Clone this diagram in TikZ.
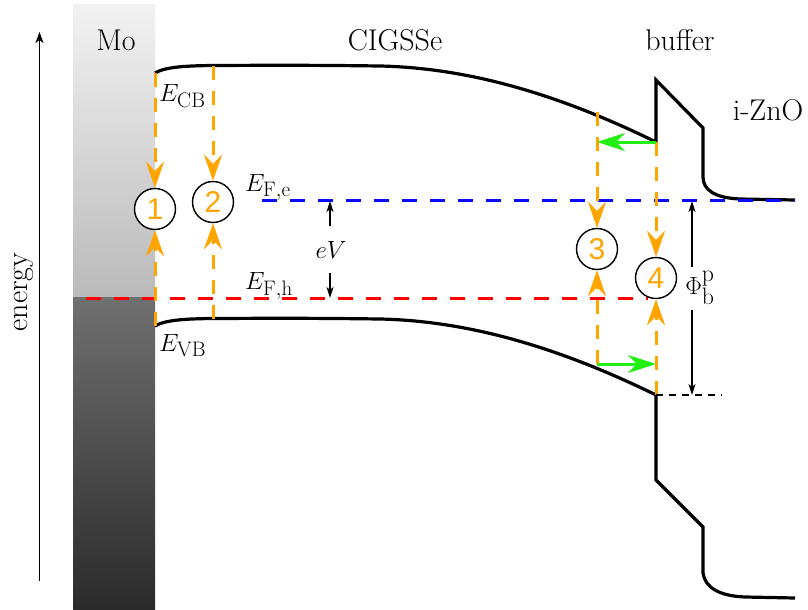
\documentclass[tikz,border=0pt]{standalone}
\usepackage{fontspec}
\newfontfamily\numfont{Liberation Sans}
\usetikzlibrary{arrows.meta}
\definecolor{myorange}{RGB}{255,165,0}
\definecolor{mygreen}{RGB}{34,238,17}
\definecolor{myblue}{RGB}{10,10,255}
\definecolor{myred}{RGB}{255,0,0}
\definecolor{lgtop}{RGB}{242,242,242}
\definecolor{lgbot}{RGB}{186,186,186}
\definecolor{dgtop}{RGB}{112,112,112}
\definecolor{dgbot}{RGB}{42,42,42}
\begin{document}
\begin{tikzpicture}[x=1pt,y=-1pt,
  font=\fontsize{30}{36}\selectfont,
  band/.style={line width=3.2pt},
  fermi/.style={line width=3pt, dash pattern=on 15pt off 13pt},
  odash/.style={myorange, line width=3pt, dash pattern=on 14pt off 11pt,
    -{Stealth[length=26pt,width=18pt,inset=9pt]}},
  garrow/.style={mygreen, line width=3pt, -{Stealth[length=28pt,width=18pt,inset=9pt]}},
  thinarrow/.style={line width=1.6pt, -{Stealth[length=11pt,width=7pt,inset=3pt]}},
  circ/.style={circle, draw, line width=1.4pt, fill=white, minimum size=41pt,
    inner sep=0pt, text=myorange, font=\numfont\fontsize{30}{30}\selectfont},
  lbl/.style={inner sep=0pt}
]
\useasboundingbox (0,0) rectangle (808,610);

% Mo contact
\shade[top color=lgtop, bottom color=lgbot] (73,5) rectangle (155,297);
\shade[top color=dgtop, bottom color=dgbot] (73,297) rectangle (155,610);

% energy axis
\coordinate (ea0) at (39.5,581);
\coordinate (ea1) at (39.5,32);
\draw[line width=1.8pt, -{Stealth[length=11pt,width=8pt,inset=3pt]}] (ea0) -- (ea1);
\node[rotate=90] (energy) at (24,292) {energy};

% key points
\coordinate (cb1) at (155,73);
\coordinate (cb2) at (213,66);
\coordinate (cb3) at (597,112);
\coordinate (cb4) at (656,142);
\coordinate (vb1) at (155,326);
\coordinate (vb2) at (213,319);
\coordinate (vb3) at (597,364);
\coordinate (vb4) at (656,395);

% bands
\draw[band] (cb1) .. controls (165,67) and (185,65.5) .. (220,65.5)
  .. controls (300,65) and (340,65.5) .. (380,66)
  .. controls (470,68) and (560,95) .. (cb4) -- (656,80) -- (703,128) -- (703,177)
  .. controls (703,190) and (715,198) .. (740,199) -- (795,200);
\draw[band] (vb1) .. controls (165,320) and (185,318.5) .. (220,318.5)
  .. controls (300,318) and (340,318.5) .. (380,319)
  .. controls (470,321) and (560,348) .. (vb4) -- (656,480) -- (703,527) -- (703,573)
  .. controls (705,588) and (720,596) .. (745,597) -- (795,598);

% Fermi levels
\coordinate (fe0) at (262,200);
\coordinate (fe1) at (795,200);
\coordinate (fh0) at (86,298);
\coordinate (fh1) at (648,298);
\draw[fermi, myblue] (fe0) -- (fe1);
\draw[fermi, myred] (fh0) -- (fh1);

% circles
\node[circ] (c1) at (155,209) {1};
\node[circ] (c2) at (213,202) {2};
\node[circ] (c3) at (597,249) {3};
\node[circ] (c4) at (656,278) {4};

% orange recombination arrows
\draw[odash] (cb1) -- (c1.north);
\draw[odash] (vb1) -- (c1.south);
\draw[odash] (cb2) -- (c2.north);
\draw[odash] (vb2) -- (c2.south);
\draw[odash] (cb3) -- (c3.north);
\draw[odash] (vb3) -- (c3.south);
\draw[odash] (cb4) -- (c4.north);
\draw[odash] (vb4) -- (c4.south);

% green arrows
\coordinate (g1) at (597,142);
\coordinate (g2) at (656,364);
\draw[garrow] (cb4) -- (g1);
\draw[garrow] (vb3) -- (g2);

% labels
\node (mo) at (116,40) {Mo};
\node (cigs) at (395,40) {CIGSSe};
\node (buf) at (680,40) {buffer};
\node (zno) at (768,110) {i-ZnO};
\node[lbl, anchor=base west] (ecb) at (159,101) {$E_{\mathrm{CB}}$};
\node[lbl, anchor=base west] (evb) at (159,351) {$E_{\mathrm{VB}}$};
\node[lbl, anchor=base west] (efe) at (245,191) {$E_{\mathrm{F,e}}$};
\node[lbl, anchor=base west] (efh) at (245,289) {$E_{\mathrm{F,h}}$};

% eV
\node (ev) at (331,250) {$eV$};
\coordinate (ev0) at (330,226);
\coordinate (ev1) at (330,201);
\coordinate (ev2) at (330,273);
\coordinate (ev3) at (330,298);
\draw[thinarrow] (ev0) -- (ev1);
\draw[thinarrow] (ev2) -- (ev3);

% barrier
\node[font=\fontsize{34}{40}\selectfont] (phi) at (700,288) {$\Phi_{\mathrm{b}}^{\mathrm{p}}$};
\coordinate (ph0) at (692,267);
\coordinate (ph1) at (692,201);
\coordinate (ph2) at (692,310);
\coordinate (ph3) at (692,395);
\draw[thinarrow] (ph0) -- (ph1);
\draw[thinarrow] (ph2) -- (ph3);
\coordinate (bd1) at (722,395);
\draw[line width=1.5pt, dash pattern=on 7pt off 6pt] (vb4) -- (bd1);
\end{tikzpicture}
\end{document}
